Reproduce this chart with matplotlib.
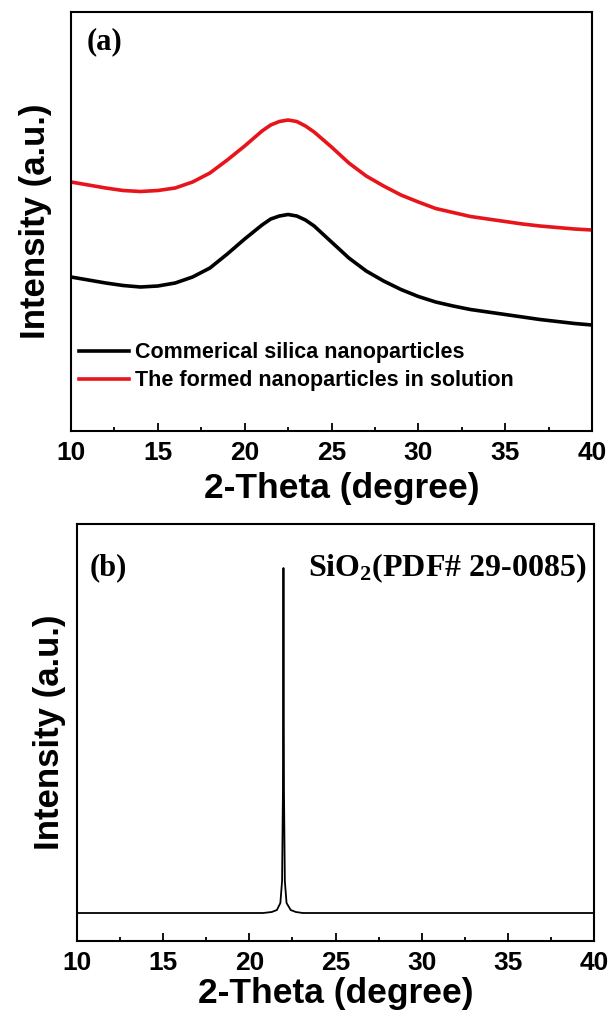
import matplotlib
matplotlib.use("Agg")
import matplotlib.pyplot as plt
from matplotlib.ticker import MultipleLocator

# ---------------- data ----------------
# panel (a): broad amorphous hump
theta_a = [10, 11, 12, 13, 14, 15, 16, 17, 18, 19, 20, 21, 21.5, 22, 22.5,
           23, 23.5, 24, 25, 26, 27, 28, 29, 30, 31, 32, 33, 34, 35, 36, 37,
           38, 39, 40]
commercial = [154, 151, 148, 145.5, 144, 145, 148, 154, 163, 177, 192, 206,
              212, 215, 216.5, 215, 211, 205, 189, 173, 160, 150, 141.5,
              134.5, 129, 125, 121.5, 119, 116.5, 114, 111.5, 109.5, 107.5,
              106]
formed = [249, 246, 243, 240.5, 239.5, 240.5, 243, 249, 258, 271, 285, 300,
          306, 309.5, 311, 309.5, 305, 299, 284, 268, 255, 245, 236, 229,
          222.5, 218.5, 214.5, 212, 209.5, 207, 205, 203.5, 202, 201]
labels_a = ["Commerical silica nanoparticles",
            "The formed nanoparticles in solution"]

# panel (b): reference pattern SiO2 PDF# 29-0085
theta_b = [10, 20.8, 21.3, 21.6, 21.8, 21.9, 21.95, 21.98, 22.01, 22.06,
           22.16, 22.4, 22.7, 23.1, 40]
ref_int = [28, 28, 29, 31, 38, 60, 150, 373, 150, 60, 38, 31, 29, 28, 28]

xticks = [10, 15, 20, 25, 30, 35, 40]

# ---------------- style ----------------
plt.rcParams['font.family'] = ['Liberation Sans', 'DejaVu Sans']
plt.rcParams['mathtext.fontset'] = 'custom'
plt.rcParams['mathtext.rm'] = 'Liberation Serif:bold'
plt.rcParams['mathtext.it'] = 'Liberation Serif:bold'
plt.rcParams['mathtext.bf'] = 'Liberation Serif:bold'

W, H = 610, 1017
fig = plt.figure(figsize=(W / 100, H / 100), dpi=100)


def px_axes(l, t, r, b):
    return fig.add_axes([l / W, 1 - b / H, (r - l) / W, (b - t) / H])


def style(ax, ypad, xpad):
    ax.set_xlim(10, 40)
    ax.set_xticks(xticks)
    ax.xaxis.set_minor_locator(MultipleLocator(2.5))
    ax.set_yticks([])
    ax.tick_params(axis='x', which='major', direction='in', length=6,
                   width=1.3, labelsize=19, pad=7, top=False)
    ax.tick_params(axis='x', which='minor', direction='in', length=3,
                   width=1.3, top=False)
    for lab in ax.get_xticklabels():
        lab.set_fontweight('bold')
    for s in ax.spines.values():
        s.set_linewidth(1.5)
    ax.set_xlabel('2-Theta (degree)', fontsize=25.5, fontweight='bold',
                  labelpad=xpad)
    ax.set_ylabel('Intensity (a.u.)', fontsize=25, fontweight='bold',
                  labelpad=ypad)


# ---- panel (a)
ax1 = px_axes(71, 12, 592, 431)
ax1.plot(theta_a, commercial, color='black', lw=2.6, label=labels_a[0])
ax1.plot(theta_a, formed, color='#e8141b', lw=2.6, label=labels_a[1])
ax1.set_ylim(0, 419)
style(ax1, ypad=14, xpad=5)
ax1.xaxis.label.set_x(0.5 + 10 / 521)
ax1.text(0.03, 0.928, '(a)', transform=ax1.transAxes, fontsize=22,
         fontweight='bold', family='Liberation Serif', va='center', ha='left')
ax1.legend(loc='upper left', bbox_to_anchor=(0.0154, 0.212), frameon=False,
           prop={'size': 15.5, 'weight': 'bold'}, handlelength=2.3,
           handletextpad=0.28, labelspacing=0.33, borderpad=0,
           borderaxespad=0)

# ---- panel (b)
ax2 = px_axes(77, 524, 594, 941)
ax2.plot(theta_b, ref_int, color='black', lw=1.3)
ax2.set_ylim(0, 417)
style(ax2, ypad=8, xpad=2)
ax2.text(0.024, 0.895, '(b)', transform=ax2.transAxes, fontsize=22,
         fontweight='bold', family='Liberation Serif', va='center', ha='left')
ax2.text(0.985, 0.895, r'SiO$_2$(PDF# 29-0085)', transform=ax2.transAxes,
         fontsize=23, fontweight='bold', family='Liberation Serif',
         va='center', ha='right')

fig.savefig('out.png', dpi=100)
